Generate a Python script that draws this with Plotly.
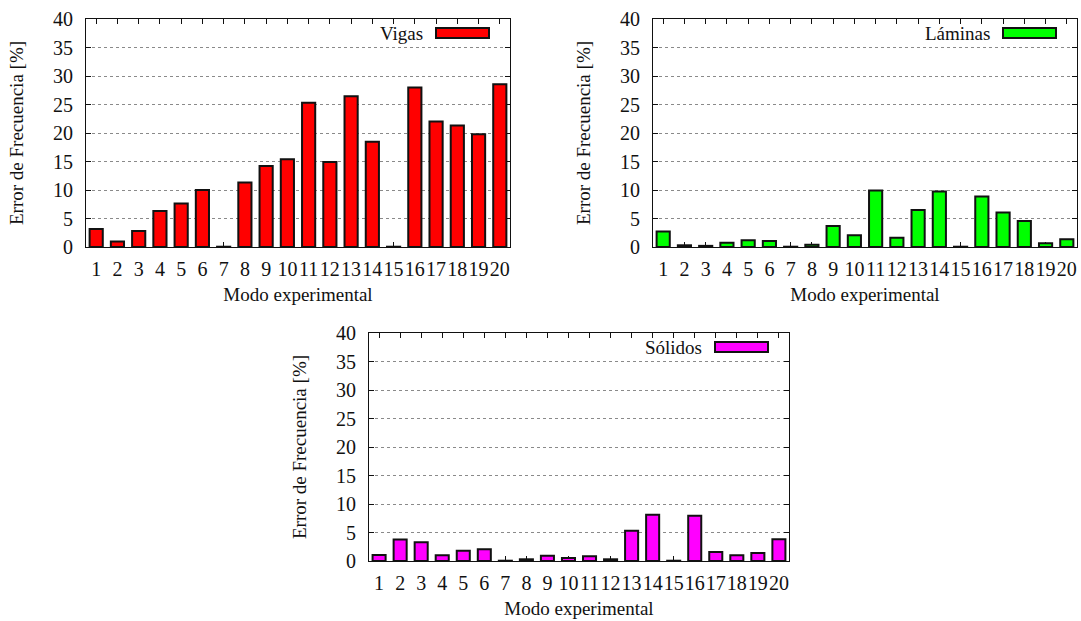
import plotly.graph_objects as go

W, H = 1081, 621

modes = list(range(1, 21))
tick_labels = [str(m) for m in modes]

vigas = [3.15, 0.95, 2.8, 6.3, 7.65, 10.0, 0.05, 11.3, 14.2, 15.4,
         25.3, 14.9, 26.45, 18.45, 0.05, 27.97, 22.0, 21.3, 19.8, 28.55]
laminas = [2.7, 0.3, 0.2, 0.76, 1.17, 1.05, 0.05, 0.4, 3.7, 2.05,
           9.93, 1.64, 6.48, 9.75, 0.05, 8.88, 6.07, 4.55, 0.64, 1.34]
solidos = [1.05, 3.75, 3.3, 1.0, 1.8, 2.04, 0.05, 0.3, 0.93, 0.52,
           0.82, 0.3, 5.3, 8.1, 0.05, 7.93, 1.57, 1.0, 1.4, 3.8]

series_names = ["Vigas", "Láminas", "Sólidos"]
series_values = [vigas, laminas, solidos]
series_colors = ["#ff0000", "#00ff00", "#ff00ff"]

y_ticks = [0, 5, 10, 15, 20, 25, 30, 35, 40]
x_title = "Modo experimental"
y_title = "Error de Frecuencia [%]"

# plot-area boxes in pixels: (left, right, top, bottom)
boxes = [(86, 510, 19, 247), (653, 1077, 19, 247), (369, 789, 333, 561)]

FONT = "Liberation Serif"
FS = 19
TFS = 20


def px_x(p):
    return p / W


def px_y(p):
    return 1 - p / H


fig = go.Figure()
shapes = []
annotations = []

for i, (name, vals, col, box) in enumerate(zip(series_names, series_values, series_colors, boxes)):
    sfx = "" if i == 0 else str(i + 1)
    fig.add_trace(go.Bar(
        x=modes, y=vals, name=name,
        marker=dict(color=col, line=dict(color="#111111", width=2)),
        xaxis="x" + sfx, yaxis="y" + sfx, showlegend=False,
    ))
    l, r, t, b = box
    axis_common = dict(
        showline=True, linecolor="#111111", linewidth=1, mirror="ticks",
        ticks="inside", ticklen=5, tickwidth=1, tickcolor="#111111",
        tickfont=dict(family=FONT, size=TFS, color="#111111"),
        layer="below traces", zeroline=False, automargin=False,
    )
    fig.update_layout(**{
        "xaxis" + sfx: dict(
            domain=[px_x(l), px_x(r)], anchor="y" + sfx,
            range=[0.52, 20.48], tickmode="array", tickvals=modes, ticktext=tick_labels,
            tickangle=0, showgrid=False, ticklabelstandoff=4,
            title=dict(text=x_title, font=dict(family=FONT, size=FS, color="#111111"), standoff=8),
            **axis_common,
        ),
        "yaxis" + sfx: dict(
            domain=[px_y(b), px_y(t)], anchor="x" + sfx,
            range=[0, 40], tickmode="array", tickvals=y_ticks,
            showgrid=True, gridcolor="#8a8a8a", griddash="dot", gridwidth=1,
            ticklabelstandoff=8,
            title=dict(text=y_title, font=dict(family=FONT, size=FS, color="#111111"), standoff=24),
            **axis_common,
        ),
    })
    # legend key (text + swatch) at top-right of each panel
    sw_r = r - 21
    sw_l = sw_r - 53
    shapes.append(dict(type="rect", xref="paper", yref="paper",
                       x0=px_x(sw_l), x1=px_x(sw_r), y0=px_y(t + 19), y1=px_y(t + 9),
                       fillcolor=col, line=dict(color="#111111", width=2)))
    annotations.append(dict(text=name, xref="paper", yref="paper",
                            x=px_x(sw_l - 11), y=px_y(t + 14), xanchor="right", yanchor="middle",
                            showarrow=False, font=dict(family=FONT, size=FS, color="#111111")))

fig.update_layout(
    width=W, height=H,
    margin=dict(l=0, r=0, t=0, b=0, autoexpand=False),
    paper_bgcolor="white", plot_bgcolor="white",
    bargap=0.38,
    shapes=shapes, annotations=annotations,
    font=dict(family=FONT, size=FS, color="#111111"),
)

fig.write_html(
    "out.html",
    config={"displayModeBar": False},
    post_script="document.body.style.margin='0';document.body.style.overflow='hidden';",
)
